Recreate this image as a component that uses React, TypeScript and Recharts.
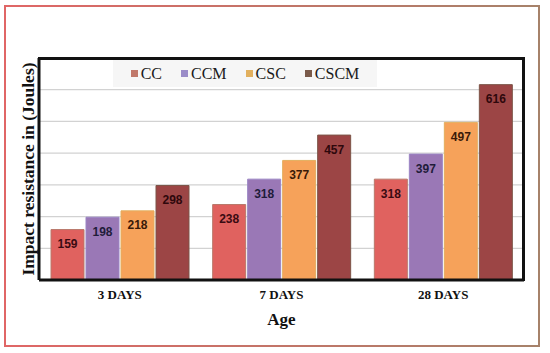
import { Bar, BarChart, CartesianGrid, LabelList, XAxis, YAxis } from "recharts";

const ages = ["3 DAYS", "7 DAYS", "28 DAYS"];
const ccValues = [159, 238, 318];
const ccmValues = [198, 318, 397];
const cscValues = [218, 377, 497];
const cscmValues = [298, 457, 616];
const yTicks = [0, 100, 200, 300, 400, 500, 600, 700];

const series = [
  { key: "CC", fill: "#e0625f", edge: "#b8786a", legend: "#c0786a", text: "#3a0b12" },
  { key: "CCM", fill: "#9a78b6", edge: "#9a84c4", legend: "#9a8cc8", text: "#1f1c3a" },
  { key: "CSC", fill: "#f6a25a", edge: "#e2ae5e", legend: "#e2b05e", text: "#3a1a08" },
  { key: "CSCM", fill: "#9c4545", edge: "#7c5548", legend: "#7a5a4a", text: "#2e080c" },
];

const data = ages.map((age, i) => ({
  age,
  CC: ccValues[i],
  CCM: ccmValues[i],
  CSC: cscValues[i],
  CSCM: cscmValues[i],
}));

const serif = "Liberation Serif, DejaVu Serif, serif";

function YLabel({ viewBox }: any) {
  const cx = viewBox.x + viewBox.width - 11;
  const cy = viewBox.y + viewBox.height / 2;
  return (
    <text
      x={cx}
      y={cy}
      transform={`rotate(-90 ${cx} ${cy})`}
      textAnchor="middle"
      dominantBaseline="central"
      fontFamily={serif}
      fontWeight="bold"
      fontSize={17.5}
      fill="#111"
    >
      Impact resistance in (Joules)
    </text>
  );
}

function XLabel({ viewBox }: any) {
  return (
    <text
      x={viewBox.x + viewBox.width / 2}
      y={viewBox.y + 45}
      textAnchor="middle"
      fontFamily={serif}
      fontWeight="bold"
      fontSize={17}
      fill="#111"
    >
      Age
    </text>
  );
}

// y ticks drive the gridlines but draw no labels
const NoTick = () => <g />;

export default function App() {
  return (
    <div style={{ position: "relative", width: 550, height: 353, background: "#fff" }}>
      <style>{`body{margin:0}`}</style>
      <div
        style={{
          position: "absolute",
          left: 4,
          top: 5,
          width: 536,
          height: 342,
          boxSizing: "border-box",
          border: "2px solid",
          borderImage: "linear-gradient(to right, #e06666, #a6826a) 1",
        }}
      />
      <div style={{ position: "absolute", left: 0, top: 0 }}>
        <BarChart
          width={550}
          height={353}
          data={data}
          barSize={33}
          barGap={2}
          margin={{ top: 58, right: 26, bottom: 43, left: 0 }}
        >
          <CartesianGrid horizontal vertical={false} stroke="#d2d2d2" strokeWidth={1.2} />
          <XAxis
            dataKey="age"
            axisLine={{ stroke: "#111", strokeWidth: 3 }}
            tickLine={false}
            tickMargin={4}
            height={30}
            tick={{ fontFamily: serif, fontWeight: "bold", fontSize: 13, fill: "#111" }}
            label={{ content: XLabel }}
          />
          <YAxis
            domain={[0, 700]}
            ticks={yTicks}
            interval={0}
            width={39}
            tick={NoTick}
            tickLine={false}
            axisLine={{ stroke: "#111", strokeWidth: 3 }}
            label={{ content: YLabel }}
          />
          {series.map((s) => (
            <Bar
              key={s.key}
              dataKey={s.key}
              fill={s.fill}
              stroke={s.edge}
              strokeWidth={1}
              isAnimationActive={false}
            >
              <LabelList
                dataKey={s.key}
                position="insideTop"
                offset={10}
                fill={s.text}
                fontFamily="Liberation Sans, Arial, sans-serif"
                fontWeight="bold"
                fontSize={12}
              />
            </Bar>
          ))}
        </BarChart>
      </div>
      <div
        style={{
          position: "absolute",
          left: 38,
          top: 57,
          width: 487,
          height: 224,
          boxSizing: "border-box",
          borderTop: "3px solid #111",
          borderRight: "3px solid #111",
          zIndex: 5,
          pointerEvents: "none",
        }}
      />
      <div
        style={{
          position: "absolute",
          left: 113,
          top: 60,
          width: 264,
          height: 27,
          background: "#f6f6f6",
          display: "flex",
          alignItems: "center",
          justifyContent: "center",
          gap: 19,
          zIndex: 6,
        }}
      >
        {series.map((s) => (
          <div key={s.key} style={{ display: "flex", alignItems: "center" }}>
            <span style={{ width: 7, height: 7, background: s.legend, marginRight: 3 }} />
            <span style={{ fontFamily: "'Liberation Serif', serif", fontSize: 16, color: "#1a1a1a" }}>
              {s.key}
            </span>
          </div>
        ))}
      </div>
    </div>
  );
}
